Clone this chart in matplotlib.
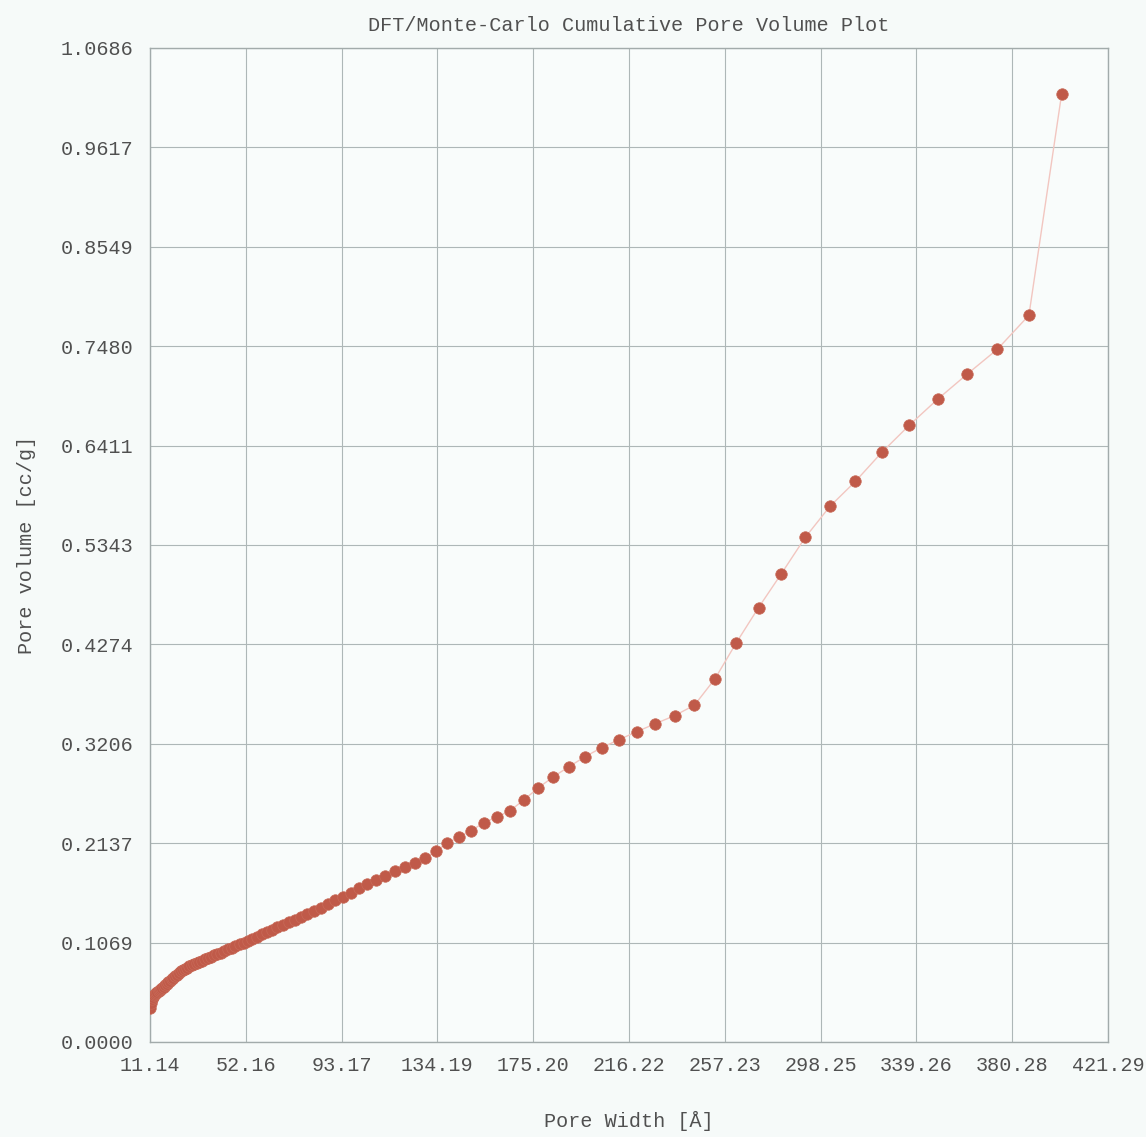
import matplotlib
matplotlib.use("Agg")
import matplotlib.pyplot as plt
from matplotlib.ticker import FixedLocator, FormatStrFormatter

# Pore width [Å]
pore_width = [
    11.14, 11.54, 11.96, 12.39, 12.84, 13.30, 13.78, 14.28, 14.80, 15.33,
    15.89, 16.46, 17.06, 17.67, 18.31, 18.97, 19.66, 20.37, 21.10, 21.87,
    22.66, 23.47, 24.32, 25.20, 26.11, 27.05, 28.03, 29.04, 30.09, 31.18,
    32.31, 33.47, 34.68, 35.94, 37.23, 38.58, 39.97, 41.42, 42.91, 44.46,
    46.07, 47.74, 49.46, 51.25, 53.10, 55.02, 57.00, 59.06, 61.20, 63.41,
    65.70, 68.07, 70.53, 73.08, 75.72, 78.46, 81.29, 84.23, 87.27, 90.42,
    93.69, 97.07, 100.58, 104.22, 107.98, 111.88, 115.92, 120.11, 124.45, 128.95,
    133.61, 138.43, 143.43, 148.62, 153.98, 159.55, 165.31, 171.28, 177.47, 183.88,
    190.53, 197.41, 204.54, 211.93, 219.59, 227.52, 235.74, 244.26, 253.08, 262.22,
    271.70, 281.51, 291.68, 302.22, 313.14, 324.45, 336.17, 348.32, 360.90, 373.94,
    387.45, 401.45,
]

# Cumulative pore volume [cc/g]
pore_volume = [
    0.0366, 0.0420, 0.0463, 0.0484, 0.0500, 0.0511, 0.0522, 0.0533, 0.0546, 0.0560,
    0.0570, 0.0583, 0.0596, 0.0611, 0.0624, 0.0640, 0.0656, 0.0673, 0.0689, 0.0706,
    0.0723, 0.0742, 0.0758, 0.0770, 0.0786, 0.0798, 0.0814, 0.0826, 0.0839, 0.0851,
    0.0863, 0.0875, 0.0888, 0.0901, 0.0915, 0.0930, 0.0945, 0.0961, 0.0978, 0.0995,
    0.1013, 0.1031, 0.1049, 0.1069, 0.1089, 0.1111, 0.1132, 0.1156, 0.1179, 0.1205,
    0.1231, 0.1258, 0.1285, 0.1313, 0.1343, 0.1375, 0.1408, 0.1444, 0.1482, 0.1522,
    0.1562, 0.1606, 0.1651, 0.1696, 0.1743, 0.1786, 0.1840, 0.1878, 0.1926, 0.1980,
    0.2055, 0.2136, 0.2206, 0.2271, 0.2357, 0.2416, 0.2486, 0.2604, 0.2733, 0.2852,
    0.2959, 0.3067, 0.3164, 0.3250, 0.3336, 0.3422, 0.3508, 0.3621, 0.3906, 0.4294,
    0.4670, 0.5036, 0.5424, 0.5757, 0.6026, 0.6338, 0.6629, 0.6909, 0.7177, 0.7447,
    0.7812, 1.0190,
]

x_ticks = [11.14, 52.16, 93.17, 134.19, 175.20, 216.22, 257.23, 298.25, 339.26, 380.28, 421.29]
y_ticks = [0.0000, 0.1069, 0.2137, 0.3206, 0.4274, 0.5343, 0.6411, 0.7480, 0.8549, 0.9617, 1.0686]

title = "DFT/Monte-Carlo Cumulative Pore Volume Plot"
x_label = "Pore Width [Å]"
y_label = "Pore volume [cc/g]"

plt.rcParams["font.family"] = ["Liberation Mono", "DejaVu Sans Mono"]

fig = plt.figure(figsize=(11.46, 11.37), dpi=100, facecolor="#F6FAF9")
ax = fig.add_axes([0.1309, 0.0836, 0.8359, 0.8742])
ax.set_facecolor("#F9FCFB")

ax.plot(pore_width, pore_volume, color="#F2C6C0", linewidth=1.0, zorder=2)
ax.plot(pore_width, pore_volume, linestyle="none", marker="o", markersize=8.3,
        markerfacecolor="#C05A49", markeredgecolor="#C86A58", markeredgewidth=0.5,
        zorder=3)

ax.set_xlim(x_ticks[0], x_ticks[-1])
ax.set_ylim(y_ticks[0], y_ticks[-1])
ax.xaxis.set_major_locator(FixedLocator(x_ticks))
ax.yaxis.set_major_locator(FixedLocator(y_ticks))
ax.xaxis.set_major_formatter(FormatStrFormatter("%.2f"))
ax.yaxis.set_major_formatter(FormatStrFormatter("%.4f"))

ax.grid(True, color="#AEB7B7", linewidth=0.8, zorder=1)
ax.set_axisbelow(True)
for side in ax.spines.values():
    side.set_color("#A2ABAB")
    side.set_linewidth(1.0)

ax.tick_params(axis="both", length=0, labelsize=14.5, labelcolor="#505050")
ax.tick_params(axis="x", pad=10)
ax.tick_params(axis="y", pad=12)

ax.set_title(title, fontsize=14.5, color="#505050", pad=12)
ax.set_xlabel(x_label, fontsize=14.5, color="#505050", labelpad=26)
ax.set_ylabel(y_label, fontsize=14.5, color="#505050", labelpad=18)

fig.savefig("out.png", dpi=100, facecolor=fig.get_facecolor())
